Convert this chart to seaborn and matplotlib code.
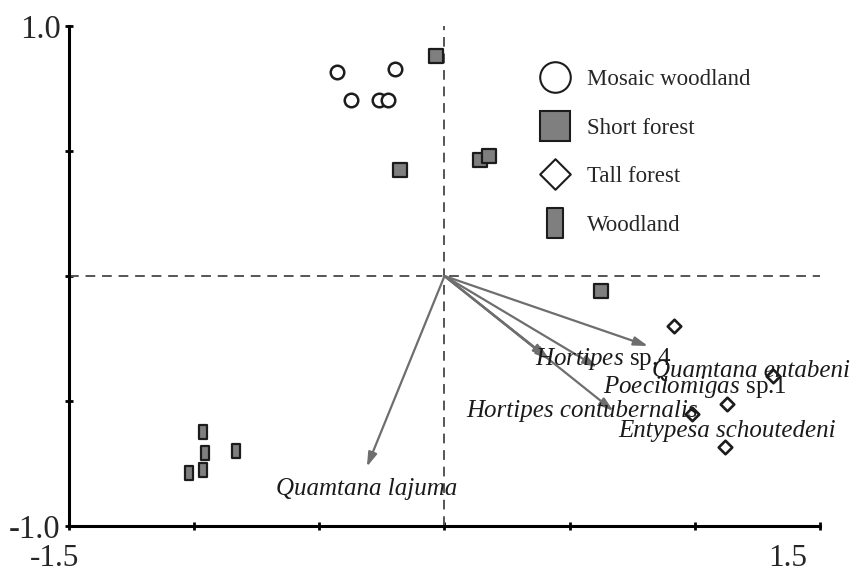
import numpy as np
import pandas as pd
import matplotlib
matplotlib.use("Agg")
import matplotlib.pyplot as plt
from matplotlib.path import Path
from matplotlib.lines import Line2D
import seaborn as sns

# ---------------- data ----------------
mosaic_x = [-0.428, -0.196, -0.372, -0.260, -0.224]
mosaic_y = [0.816, 0.828, 0.704, 0.704, 0.704]

short_x = [-0.033, -0.177, 0.140, 0.176, 0.627]
short_y = [0.881, 0.424, 0.464, 0.480, -0.060]

tall_x = [0.917, 1.313, 1.127, 0.989, 1.120]
tall_y = [-0.199, -0.400, -0.513, -0.552, -0.683]

wood_x = [-0.963, -0.957, -0.964, -1.020, -0.831]
wood_y = [-0.623, -0.707, -0.776, -0.789, -0.700]

habitats = ["Mosaic woodland", "Short forest", "Tall forest", "Woodland"]

species = ["Hortipes sp.4", "Quamtana entabeni", "Poecilomigas sp.1",
           "Hortipes contubernalis", "Entypesa schoutedeni", "Quamtana lajuma"]
species_labels = [r"$\mathit{Hortipes}$ sp.4", "Quamtana entabeni",
                  r"$\mathit{Poecilomigas}$ sp.1", "Hortipes contubernalis",
                  "Entypesa schoutedeni", "Quamtana lajuma"]
arrow_x = [0.813, 0.610, 0.410, 0.675, 0.420, -0.310]
arrow_y = [-0.280, -0.365, -0.325, -0.540, -0.335, -0.763]
label_x = [0.360, 0.827, 0.633, 0.087, 0.693, -0.673]
label_y = [-0.356, -0.404, -0.468, -0.564, -0.644, -0.876]

x_ticks = [-1.5, -1.0, -0.5, 0.0, 0.5, 1.0, 1.5]
y_ticks = [-1.0, -0.5, 0.0, 0.5, 1.0]
y_ticklabels = ["-1.0", "", "", "", "1.0"]
x_end_labels = ["-1.5", "1.5"]

# ---------------- style ----------------
sns.set_theme(style="ticks")
plt.rcParams["font.family"] = ["Liberation Serif", "DejaVu Serif"]
plt.rcParams["mathtext.fontset"] = "custom"
plt.rcParams["mathtext.rm"] = "Liberation Serif"
plt.rcParams["mathtext.it"] = "Liberation Serif:italic"

df = pd.concat([
    pd.DataFrame({"x": mosaic_x, "y": mosaic_y, "habitat": habitats[0]}),
    pd.DataFrame({"x": short_x, "y": short_y, "habitat": habitats[1]}),
    pd.DataFrame({"x": tall_x, "y": tall_y, "habitat": habitats[2]}),
    pd.DataFrame({"x": wood_x, "y": wood_y, "habitat": habitats[3]}),
], ignore_index=True)

diamond = Path([(0, -0.5), (0.5, 0), (0, 0.5), (-0.5, 0), (0, -0.5)],
               [Path.MOVETO, Path.LINETO, Path.LINETO, Path.LINETO, Path.CLOSEPOLY])
rect = Path([(-0.26, -0.5), (0.26, -0.5), (0.26, 0.5), (-0.26, 0.5), (-0.26, -0.5)],
            [Path.MOVETO, Path.LINETO, Path.LINETO, Path.LINETO, Path.CLOSEPOLY])

grey = "#7f7f7f"
dark = "#1c1c1c"
styles = {
    "Mosaic woodland": dict(marker="o", face="white", s=95, lw=1.8),
    "Short forest": dict(marker="s", face=grey, s=90, lw=1.6),
    "Tall forest": dict(marker=diamond, face="white", s=95, lw=1.9),
    "Woodland": dict(marker=rect, face=grey, s=95, lw=1.6),
}

fig = plt.figure(figsize=(8.54, 5.72), dpi=100)
ax = fig.add_axes([69 / 854, 1 - 526 / 572, 751 / 854, 500 / 572])

# reference lines
ax.axhline(0, color="#555555", lw=1.4, dashes=(5, 3.5), zorder=1)
ax.axvline(0, color="#555555", lw=1.4, dashes=(5, 3.5), zorder=1)

# arrows
for tx, ty in zip(arrow_x, arrow_y):
    ax.annotate("", xy=(tx, ty), xytext=(0, 0),
                arrowprops=dict(arrowstyle="-|>,head_length=0.7,head_width=0.22",
                                color="#6e6e6e", lw=1.6, shrinkA=0, shrinkB=0,
                                mutation_scale=12), zorder=2)

# points
for h in habitats:
    st = styles[h]
    sns.scatterplot(data=df[df["habitat"] == h], x="x", y="y", ax=ax,
                    marker=st["marker"], s=st["s"], color=st["face"],
                    edgecolor=dark, linewidth=st["lw"], legend=False, zorder=3)

# species labels
for lab, lx, ly in zip(species_labels, label_x, label_y):
    style = "normal" if "$" in lab else "italic"
    ax.text(lx, ly, lab, fontsize=18, fontstyle=style, va="baseline", ha="left",
            color="#1a1a1a", clip_on=False, zorder=4)

# axes
ax.set_xlim(-1.5, 1.5)
ax.set_ylim(-1, 1)
ax.set_xlabel("")
ax.set_ylabel("")
ax.set_xticks(x_ticks)
ax.set_xticklabels([""] * len(x_ticks))
ax.set_yticks(y_ticks)
ax.set_yticklabels(y_ticklabels, fontsize=23.5)
ax.tick_params(axis="both", direction="inout", length=6, width=2, color="black", pad=3)
sns.despine(ax=ax)
for sp in ["left", "bottom"]:
    ax.spines[sp].set_linewidth(2.2)
    ax.spines[sp].set_color("black")

# x end labels
ax.text(-1.556, -1.072, x_end_labels[0], fontsize=22.5, ha="center", va="top", clip_on=False)
ax.text(1.372, -1.072, x_end_labels[1], fontsize=22.5, ha="center", va="top", clip_on=False)

# legend
handles = []
for h in habitats:
    st = styles[h]
    handles.append(Line2D([], [], linestyle="none", marker=st["marker"], markersize=22,
                          markerfacecolor=st["face"], markeredgecolor=dark,
                          markeredgewidth=1.5))
leg = ax.legend(handles, habitats, loc="upper left", frameon=False, fontsize=16.5,
                handlelength=1.4, handletextpad=0.7, labelspacing=1.2,
                borderpad=0, borderaxespad=0,
                bbox_to_anchor=(539 / 854, 1 - 69 / 572), bbox_transform=fig.transFigure)

fig.savefig("out.png", dpi=100)
